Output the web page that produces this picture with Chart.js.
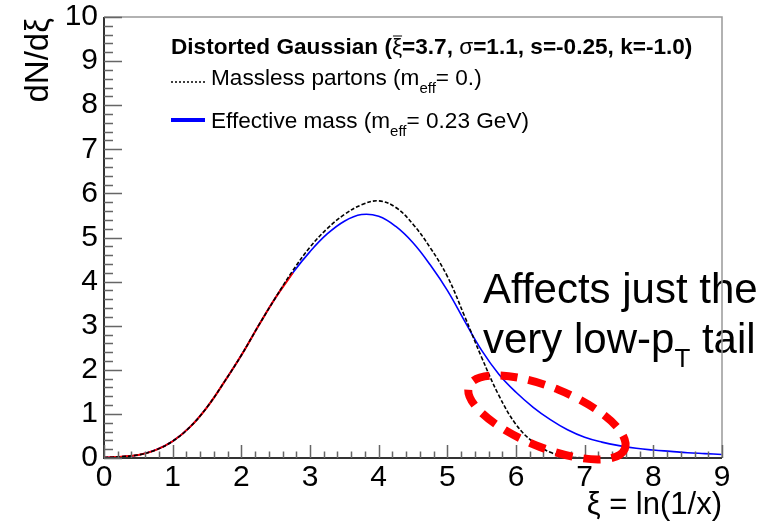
<!DOCTYPE html>
<html>
<head>
<meta charset="utf-8">
<script src="https://cdn.jsdelivr.net/npm/chart.js@4"></script>
<style>
  body { margin: 0; background: #fff; }
</style>
</head>
<body>
<canvas id="chart" width="766" height="525"></canvas>
<script>
// xi = ln(1/x) sample points
var xi = [0, 0.25, 0.5, 0.75, 1, 1.25, 1.5, 1.75, 2, 2.25, 2.5, 2.75, 3, 3.25, 3.5, 3.75, 4,
  4.25, 4.5, 4.75, 5, 5.25, 5.5, 5.75, 6, 6.25, 6.5, 6.75, 7, 7.25, 7.5, 7.75, 8, 8.25, 8.5, 8.75, 9];

// massless partons (black dashed)
var massless = [0.01, 0.03, 0.07, 0.18, 0.38, 0.70, 1.15, 1.72, 2.33, 3.00, 3.64, 4.25, 4.78, 5.20,
  5.52, 5.74, 5.83, 5.68, 5.30, 4.77, 4.12, 3.22, 2.28, 1.42, 0.76, 0.36, 0.13, 0.03, 0.0,
  null, null, null, null, null, null, null, null];

// effective mass m_eff = 0.23 GeV (blue)
var effective = [0.01, 0.03, 0.07, 0.18, 0.38, 0.70, 1.15, 1.72, 2.33, 3.00, 3.64, 4.20, 4.68, 5.08,
  5.37, 5.52, 5.48, 5.25, 4.88, 4.38, 3.80, 3.11, 2.44, 1.90, 1.49, 1.15, 0.87, 0.64, 0.47,
  0.36, 0.28, 0.22, 0.18, 0.15, 0.12, 0.10, 0.08];

// red fit curve, only visible at low xi
var redMax = 2.75;

var xTicks = [0, 1, 2, 3, 4, 5, 6, 7, 8, 9];
var yTicks = [0, 1, 2, 3, 4, 5, 6, 7, 8, 9, 10];

function pts(ys, maxX) {
  var out = [];
  for (var i = 0; i < xi.length; i++) {
    if (ys[i] === null) continue;
    if (maxX !== undefined && xi[i] > maxX) continue;
    out.push({ x: xi[i], y: ys[i] });
  }
  return out;
}

var FONT = '"Liberation Sans", Arial, Helvetica, sans-serif';

function rich(ctx, x, y, parts) {
  for (var i = 0; i < parts.length; i++) {
    var p = parts[i];
    ctx.font = p.f;
    ctx.fillText(p.t, x, y + (p.dy || 0));
    if (p.bar) {
      var w0 = ctx.measureText(p.t).width;
      ctx.save();
      ctx.lineWidth = 1;
      ctx.beginPath();
      ctx.moveTo(x + 1, y - 18);
      ctx.lineTo(x + w0, y - 18);
      ctx.stroke();
      ctx.restore();
    }
    x += ctx.measureText(p.t).width;
  }
  return x;
}

var rootStyle = {
  id: 'rootStyle',
  afterDraw: function(chart) {
    var ctx = chart.ctx, a = chart.chartArea;
    var xs = chart.scales.x, ys = chart.scales.y;
    ctx.save();
    ctx.fillStyle = '#000';
    ctx.strokeStyle = '#000';
    ctx.textAlign = 'left';
    ctx.textBaseline = 'alphabetic';

    // legend
    rich(ctx, 171, 54, [
      { t: 'Distorted Gaussian (', f: 'bold 22.6px ' + FONT },
      { t: 'ξ', f: '22.6px ' + FONT, bar: true },
      { t: '=3.7, ', f: 'bold 22.6px ' + FONT },
      { t: 'σ', f: '22.6px ' + FONT },
      { t: '=1.1, s=-0.25, k=-1.0)', f: 'bold 22.6px ' + FONT }
    ]);
    ctx.save();
    ctx.lineWidth = 1.5;
    ctx.setLineDash([2, 2]);
    ctx.beginPath();
    ctx.moveTo(171, 82);
    ctx.lineTo(205, 82);
    ctx.stroke();
    ctx.restore();
    rich(ctx, 211, 85, [
      { t: 'Massless partons (m', f: '22.6px ' + FONT },
      { t: 'eff', f: '15px ' + FONT, dy: 8 },
      { t: '= 0.)', f: '22.6px ' + FONT }
    ]);
    ctx.save();
    ctx.strokeStyle = '#0000ff';
    ctx.lineWidth = 4;
    ctx.beginPath();
    ctx.moveTo(171, 120);
    ctx.lineTo(205, 120);
    ctx.stroke();
    ctx.restore();
    rich(ctx, 211, 128, [
      { t: 'Effective mass (m', f: '22.6px ' + FONT },
      { t: 'eff', f: '15px ' + FONT, dy: 8 },
      { t: '= 0.23 GeV)', f: '22.6px ' + FONT }
    ]);

    // annotation
    rich(ctx, 483, 303, [{ t: 'Affects just the', f: '42px ' + FONT }]);
    rich(ctx, 483, 353, [
      { t: 'very low-p', f: '42px ' + FONT },
      { t: 'T', f: '26px ' + FONT, dy: 14 },
      { t: ' tail', f: '42px ' + FONT }
    ]);

    // frame
    ctx.strokeStyle = '#999';
    ctx.lineWidth = 1.5;
    ctx.beginPath();
    ctx.moveTo(a.left, a.top);
    ctx.lineTo(a.right, a.top);
    ctx.lineTo(a.right, a.bottom);
    ctx.stroke();
    ctx.strokeStyle = '#333';
    ctx.lineWidth = 2;
    ctx.beginPath();
    ctx.moveTo(a.left, a.top);
    ctx.lineTo(a.left, a.bottom);
    ctx.lineTo(a.right, a.bottom);
    ctx.stroke();

    // inward ticks
    ctx.strokeStyle = '#666';
    ctx.lineWidth = 1.5;
    ctx.beginPath();
    for (var i = 0; i <= 45; i++) {
      var v = i * 0.2;
      var px = Math.round(xs.getPixelForValue(v)) + 0.5;
      var len = (i % 5 === 0) ? 13 : 6.5;
      ctx.moveTo(px, a.bottom);
      ctx.lineTo(px, a.bottom - len);
    }
    for (var j = 0; j <= 50; j++) {
      var w = j * 0.2;
      var py = Math.round(ys.getPixelForValue(w)) + 0.5;
      var ylen = (j % 5 === 0) ? 18 : 9;
      ctx.moveTo(a.left, py);
      ctx.lineTo(a.left + ylen, py);
    }
    ctx.stroke();

    // dashed red ellipse
    ctx.save();
    ctx.strokeStyle = '#ff0000';
    ctx.lineWidth = 8;
    ctx.setLineDash([17, 11]);
    ctx.beginPath();
    ctx.ellipse(xs.getPixelForValue(6.45), ys.getPixelForValue(0.92), 84, 30, 22 * Math.PI / 180, 0, Math.PI * 2);
    ctx.stroke();
    ctx.restore();

    // axis titles
    ctx.fillStyle = '#000';
    ctx.font = '31px ' + FONT;
    ctx.textAlign = 'right';
    ctx.fillText('ξ = ln(1/x)', a.right, 514);
    ctx.save();
    ctx.translate(48, a.top + 1);
    ctx.rotate(-Math.PI / 2);
    ctx.font = '33px ' + FONT;
    ctx.textAlign = 'right';
    ctx.fillText('dN/dξ', 0, 0);
    ctx.restore();

    ctx.restore();
  }
};

var ctx = document.getElementById('chart').getContext('2d');
var myChart = new Chart(ctx, {
  type: 'line',
  data: {
    datasets: [
      {
        label: 'Massless partons',
        data: pts(massless),
        borderColor: '#000000',
        borderWidth: 1.6,
        borderDash: [4, 2],
        pointRadius: 0,
        tension: 0.4,
        order: 0
      },
      {
        label: 'Fit',
        data: pts(effective, redMax),
        borderColor: '#ff0000',
        borderWidth: 2,
        pointRadius: 0,
        tension: 0.4,
        order: 1
      },
      {
        label: 'Effective mass',
        data: pts(effective),
        borderColor: '#0000ff',
        borderWidth: 1.6,
        pointRadius: 0,
        tension: 0.4,
        order: 2
      }
    ]
  },
  options: {
    responsive: false,
    animation: false,
    layout: { padding: { left: 0, top: 17, right: 44, bottom: 0 } },
    plugins: {
      legend: { display: false },
      tooltip: { enabled: false }
    },
    scales: {
      x: {
        type: 'linear',
        min: 0,
        max: 9,
        afterBuildTicks: function(scale) {
          scale.ticks = xTicks.map(function(v) { return { value: v }; });
        },
        afterFit: function(scale) { scale.height = 67; },
        grid: { display: false },
        border: { display: false },
        ticks: {
          color: '#000',
          padding: -6,
          maxRotation: 0,
          font: { family: FONT, size: 30 }
        }
      },
      y: {
        type: 'linear',
        min: 0,
        max: 10,
        afterBuildTicks: function(scale) {
          scale.ticks = yTicks.map(function(v) { return { value: v }; });
        },
        afterFit: function(scale) { scale.width = 104; },
        grid: { display: false },
        border: { display: false },
        ticks: {
          color: '#000',
          padding: -2,
          font: { family: FONT, size: 30 }
        }
      }
    }
  },
  plugins: [rootStyle]
});
</script>
</body>
</html>
